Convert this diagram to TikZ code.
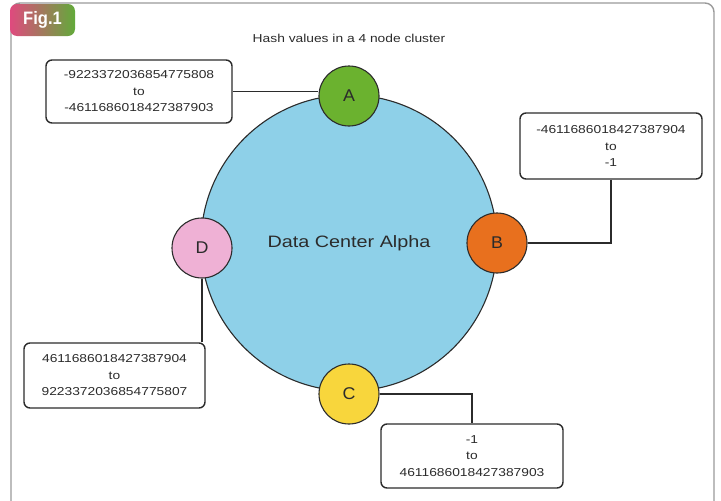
\documentclass[tikz,border=0pt]{standalone}
\usepackage{fontspec}
\setmainfont{Liberation Sans}[FakeStretch=1.2]
\newfontfamily\badgefont{Liberation Sans}[FakeStretch=0.92]
\newfontfamily\letterfont{Liberation Sans}[FakeStretch=1.05]
\usetikzlibrary{positioning}
\definecolor{ringblue}{HTML}{8ED0E8}
\definecolor{nodeA}{HTML}{6BB22F}
\definecolor{nodeB}{HTML}{E8701E}
\definecolor{nodeC}{HTML}{F8D63C}
\definecolor{nodeD}{HTML}{EFB1D5}
\definecolor{ink}{HTML}{2B2B2B}
\definecolor{framegray}{HTML}{9A9A9A}
\definecolor{badgepink}{HTML}{DF4A7E}
\definecolor{badgegreen}{HTML}{62AA3A}
\tikzset{
  hub/.style={circle, draw=ink, line width=1.1pt, minimum size=60pt, inner sep=0pt,
    font=\letterfont\fontsize{17}{20}\selectfont, text=ink},
  rangebox/.style={draw=ink, line width=1.4pt, rounded corners=6pt, align=center,
    inner sep=0pt, font=\fontsize{11.5}{16.5}\selectfont, text=ink},
  link/.style={draw=ink, line width=1.4pt}
}
\begin{document}
\begin{tikzpicture}[x=1pt, y=-1pt]
\useasboundingbox (0,0) rectangle (721,501);
% outer frame
\draw[framegray, line width=1.4pt, rounded corners=9pt] (11,510) -- (11,3) -- (714,3) -- (714,510);
% figure badge
\shade[left color=badgepink, right color=badgegreen, rounded corners=7pt] (10,4) rectangle (75,36);
\node[text=white, font=\badgefont\bfseries\fontsize{18}{20}\selectfont] (fig) at (42.5,20) {Fig.1};
% title
\node[font=\fontsize{11.5}{14}\selectfont, text=ink] (title) at (349,38) {Hash values in a 4 node cluster};
% data center ring
\node[circle, draw=ink, line width=1.1pt, fill=ringblue, minimum size=296pt, inner sep=0pt,
  font=\fontsize{16.5}{19}\selectfont, text=ink] (ring) at (349,243) {Data Center Alpha};
% cluster nodes
\node[hub, fill=nodeA] (A) at (349,96) {A};
\node[hub, fill=nodeB] (B) at (497,243) {B};
\node[hub, fill=nodeC] (C) at (349,394) {C};
\node[hub, fill=nodeD] (D) at (202,248) {D};
% token ranges
\node[rangebox, minimum width=186pt, minimum height=63pt] (rA) at (139,91.5)
  {-9223372036854775808\\to\\-4611686018427387903};
\node[rangebox, minimum width=182pt, minimum height=66pt] (rB) at (611,146)
  {-4611686018427387904\\to\\-1};
\node[rangebox, minimum width=182pt, minimum height=64pt] (rC) at (472,456)
  {-1\\to\\4611686018427387903};
\node[rangebox, minimum width=181pt, minimum height=65pt] (rD) at (114.5,375.5)
  {4611686018427387904\\to\\9223372036854775807};
% connectors
\draw[link] (rA.east) -- (rA.east -| A.west);
\draw[link] (rB.south) |- (B.east);
\draw[link] (C.east) -| (rC.north);
\draw[link] (D.south) -- (D.south |- rD.north);
\end{tikzpicture}
\end{document}
